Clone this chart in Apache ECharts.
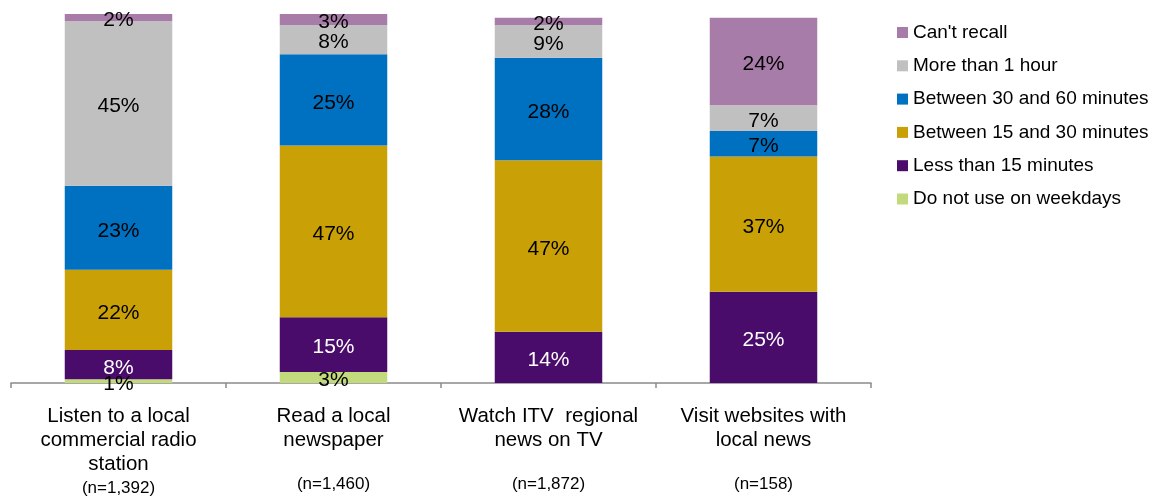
<!DOCTYPE html>
<html>
<head>
<meta charset="utf-8">
<title>Time spent on local news sources on a weekday</title>
<script src="https://cdn.jsdelivr.net/npm/echarts@6/dist/echarts.min.js"></script>
<style>
  html, body { margin: 0; padding: 0; background: #ffffff; }
  #chart { width: 1153px; height: 500px; }
</style>
</head>
<body>
<div id="chart"></div>
<script>
// Activities (each category label is split into lines) and their base sizes
const categoryLines = [
  ['Listen to a local', 'commercial radio', 'station'],
  ['Read a local', 'newspaper'],
  ['Watch ITV  regional', 'news on TV'],
  ['Visit websites with', 'local news']
];
const sampleSizes = ['(n=1,392)', '(n=1,460)', '(n=1,872)', '(n=158)'];

// Share of users (%) per time band, stacked bottom to top
const seriesNames = [
  'Do not use on weekdays',
  'Less than 15 minutes',
  'Between 15 and 30 minutes',
  'Between 30 and 60 minutes',
  'More than 1 hour',
  "Can't recall"
];
const doNotUse        = [1, 3, 0, 0];
const lessThan15      = [8, 15, 14, 25];
const between15and30  = [22, 47, 47, 37];
const between30and60  = [23, 25, 28, 7];
const moreThanOneHour = [45, 8, 9, 7];
const cantRecall      = [2, 3, 2, 24];

const seriesValues = [doNotUse, lessThan15, between15and30, between30and60, moreThanOneHour, cantRecall];
const seriesColors = ['#c3da7c', '#4a0c6a', '#c9a006', '#0070c0', '#c0c0c0', '#a87ca8'];
const labelColors  = ['#000', '#fff', '#000', '#000', '#000', '#000'];

const FONT = '"Liberation Sans", Arial, sans-serif';

const chart = echarts.init(document.getElementById('chart'), null, { renderer: 'canvas' });

const categoryKeys = categoryLines.map((_, i) => 'c' + i);

const option = {
  animation: false,
  backgroundColor: '#ffffff',
  grid: { left: 11, right: 282, top: 14, bottom: 117, containLabel: false },
  legend: {
    orient: 'vertical',
    left: 892,
    top: 18,
    icon: 'rect',
    itemWidth: 11,
    itemHeight: 11,
    itemGap: 14.3,
    data: seriesNames.slice().reverse(),
    textStyle: { fontFamily: FONT, fontSize: 19, lineHeight: 19, color: '#000' }
  },
  xAxis: {
    type: 'category',
    data: categoryKeys,
    axisLine: { show: true, lineStyle: { color: '#8a8a8a', width: 1.5 } },
    axisTick: { show: true, length: 5, alignWithLabel: false, lineStyle: { color: '#8a8a8a', width: 1.5 } },
    axisLabel: {
      interval: 0,
      margin: 21,
      verticalAlign: 'top',
      formatter: function (value, idx) {
        const lines = categoryLines[idx].map(l => '{a|' + l + '}');
        if (lines.length < 3) lines.push('{b| }');
        lines.push('{n|' + sampleSizes[idx] + '}');
        return lines.join('\n');
      },
      rich: {
        a: { fontFamily: FONT, fontSize: 20.5, lineHeight: 24, color: '#000', align: 'center' },
        b: { fontFamily: FONT, fontSize: 12, lineHeight: 20, color: '#000', align: 'center' },
        n: { fontFamily: FONT, fontSize: 17, lineHeight: 24, color: '#000', align: 'center' }
      }
    }
  },
  yAxis: {
    type: 'value',
    min: 0,
    max: 101,
    show: false,
    splitLine: { show: false }
  },
  series: seriesNames.map((name, s) => ({
    name: name,
    type: 'bar',
    stack: 'share',
    barWidth: '50%',
    data: seriesValues[s],
    itemStyle: { color: seriesColors[s] },
    label: {
      show: true,
      position: 'inside',
      offset: [0, 3],
      fontFamily: FONT,
      fontSize: 21,
      color: labelColors[s],
      formatter: p => (p.value > 0 ? p.value + '%' : '')
    },
    emphasis: { disabled: true }
  }))
};

chart.setOption(option);
</script>
</body>
</html>
